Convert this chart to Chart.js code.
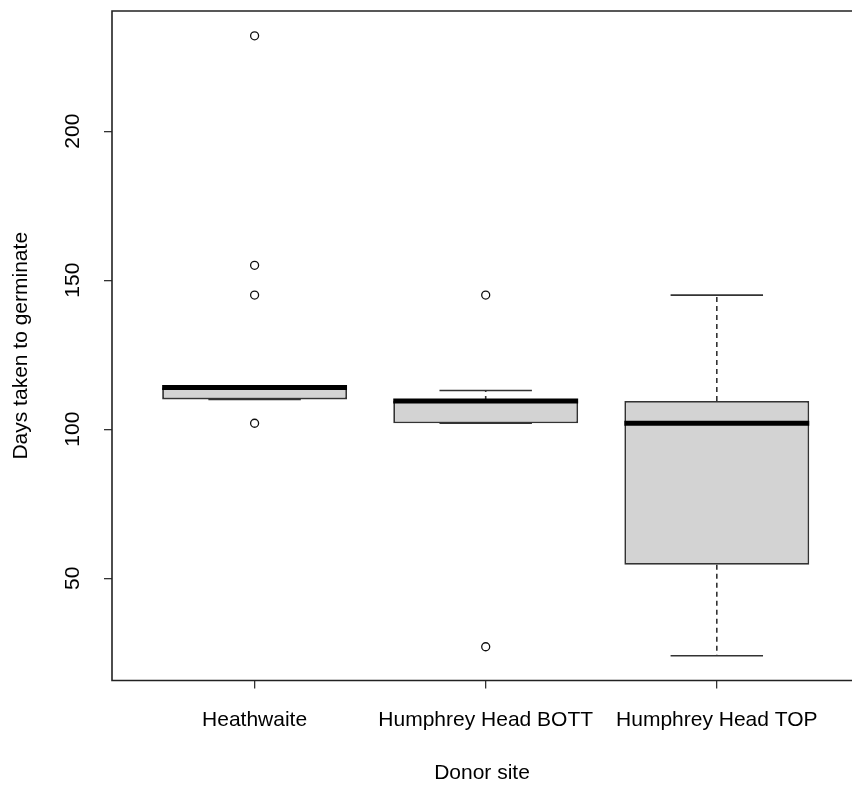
<!DOCTYPE html>
<html>
<head>
<meta charset="utf-8">
<title>Days taken to germinate by donor site</title>
<script src="https://cdn.jsdelivr.net/npm/chart.js@4.4.1/dist/chart.umd.min.js"></script>
<style>
  html, body { margin: 0; padding: 0; background: #fff; }
  #wrap { width: 852px; height: 787px; }
</style>
</head>
<body>
<div id="wrap"><canvas id="boxChart" width="852" height="787"></canvas></div>
<script type="text/javascript">
// boxplot summary per donor site
const sites = ["Heathwaite", "Humphrey Head BOTT", "Humphrey Head TOP"];
const lowerWhisker = [110, 102, 24];
const lowerHinge = [110, 102, 54.5];
const medians = [114, 109.5, 102];
const upperHinge = [114, 109.5, 109.5];
const upperWhisker = [114, 113, 145];
const outliers = [[102, 145, 155, 232], [27, 145], []];
const yTicks = [50, 100, 150, 200];

const FONT = "'Liberation Sans', Arial, sans-serif";
Chart.defaults.font.family = FONT;
Chart.defaults.color = "#000";

const outlierPoints = [];
outliers.forEach(function (vals, i) {
  vals.forEach(function (v) { outlierPoints.push({ x: i + 1, y: v }); });
});

// whiskers, staples, medians and the plot frame, drawn from the scales
const boxExtras = {
  id: "boxExtras",
  afterDatasetsDraw(chart) {
    const ctx = chart.ctx, xs = chart.scales.x, ys = chart.scales.y;
    const area = chart.chartArea;
    ctx.save();
    sites.forEach(function (s, i) {
      const cx = xs.getPixelForValue(i + 1);
      const boxHalf = xs.getPixelForValue(i + 1.4) - cx;
      const stapleHalf = xs.getPixelForValue(i + 1.2) - cx;
      ctx.strokeStyle = "#333";
      ctx.lineWidth = 1.6;
      // dashed whiskers
      ctx.setLineDash([5, 4]);
      ctx.beginPath();
      ctx.moveTo(cx, ys.getPixelForValue(upperHinge[i]));
      ctx.lineTo(cx, ys.getPixelForValue(upperWhisker[i]));
      ctx.moveTo(cx, ys.getPixelForValue(lowerHinge[i]));
      ctx.lineTo(cx, ys.getPixelForValue(lowerWhisker[i]));
      ctx.stroke();
      // staples
      ctx.setLineDash([]);
      ctx.beginPath();
      [upperWhisker[i], lowerWhisker[i]].forEach(function (v) {
        const py = ys.getPixelForValue(v);
        ctx.moveTo(cx - stapleHalf, py);
        ctx.lineTo(cx + stapleHalf, py);
      });
      ctx.stroke();
      // median
      ctx.strokeStyle = "#000";
      ctx.lineWidth = 5;
      ctx.beginPath();
      const my = ys.getPixelForValue(medians[i]);
      ctx.moveTo(cx - boxHalf, my);
      ctx.lineTo(cx + boxHalf, my);
      ctx.stroke();
    });
    // frame (right side falls outside the picture)
    ctx.strokeStyle = "#222";
    ctx.lineWidth = 1.6;
    ctx.beginPath();
    ctx.moveTo(chart.width + 2, area.top);
    ctx.lineTo(area.left, area.top);
    ctx.lineTo(area.left, area.bottom);
    ctx.lineTo(chart.width + 2, area.bottom);
    ctx.stroke();
    ctx.restore();
  }
};

new Chart("boxChart", {
  type: "bar",
  data: {
    datasets: [
      {
        type: "bar",
        label: "Box",
        data: sites.map(function (s, i) { return { x: i + 1, y: [lowerHinge[i], upperHinge[i]] }; }),
        backgroundColor: "#d3d3d3",
        borderColor: "#333",
        borderWidth: 1.8,
        borderSkipped: false,
        categoryPercentage: 0.8,
        barPercentage: 1.0
      },
      {
        type: "scatter",
        label: "Outliers",
        data: outlierPoints,
        pointRadius: 4,
        pointBorderWidth: 1.3,
        pointBorderColor: "#111",
        pointBackgroundColor: "rgba(0,0,0,0)",
        showLine: false
      }
    ]
  },
  options: {
    responsive: false,
    animation: false,
    layout: { autoPadding: false, padding: { top: 11, right: 0, left: 0, bottom: 0 } },
    plugins: {
      legend: { display: false },
      tooltip: { enabled: false }
    },
    scales: {
      x: {
        type: "linear",
        offset: false,
        min: 0.383,
        max: 3.585,
        afterBuildTicks: function (s) { s.ticks = [1, 2, 3].map(function (v) { return { value: v }; }); },
        afterFit: function (s) { s.height = 106.5; s.paddingLeft = 0; s.paddingRight = 0; },
        ticks: {
          autoSkip: false,
          maxRotation: 0,
          padding: 19,
          font: { size: 21 },
          callback: function (v) { return sites[v - 1]; }
        },
        grid: { offset: false, drawOnChartArea: false, tickLength: 8, color: "#333", lineWidth: 1.3 },
        border: { display: false },
        title: { display: true, text: "Donor site", font: { size: 21 }, padding: { top: 0, bottom: 1.5 } }
      },
      y: {
        type: "linear",
        min: 15.68,
        max: 240.32,
        afterBuildTicks: function (s) { s.ticks = yTicks.map(function (v) { return { value: v }; }); },
        afterFit: function (s) { s.width = 112; s.paddingTop = 0; s.paddingBottom = 0; },
        ticks: {
          minRotation: 90,
          maxRotation: 90,
          crossAlign: "center",
          padding: 13,
          font: { size: 21 }
        },
        grid: { drawOnChartArea: false, tickLength: 8, color: "#333", lineWidth: 1.3 },
        border: { display: false },
        title: { display: true, text: "Days taken to germinate", font: { size: 21 }, padding: { top: 8.5, bottom: 0 } }
      }
    }
  },
  plugins: [boxExtras]
});
</script>
</body>
</html>
